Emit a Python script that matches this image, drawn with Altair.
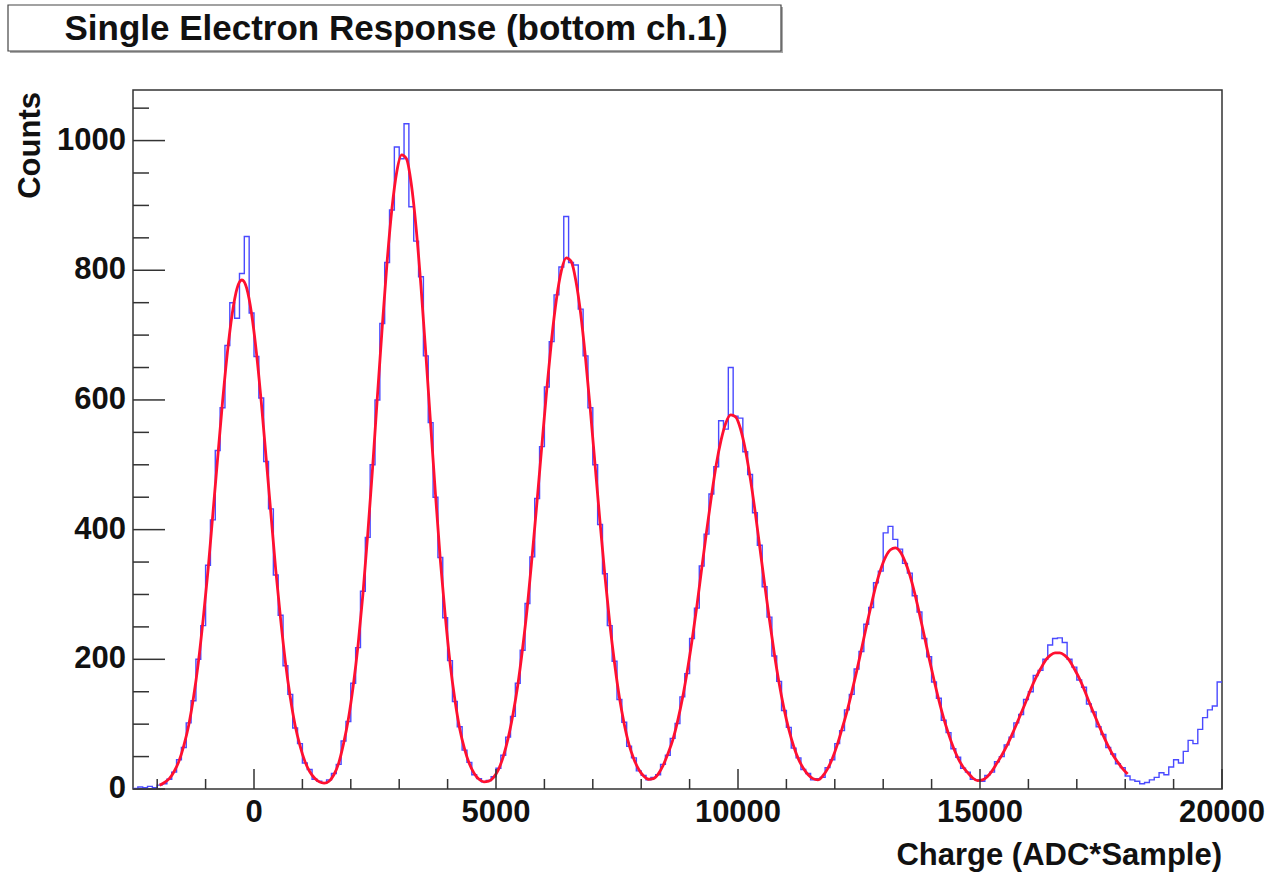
import altair as alt
import numpy as np
import pandas as pd

# ---------------- data ----------------
X_MIN, X_MAX = -2500, 20000
BIN_W = 100
Y_MAX = 1078

# histogram bin contents, bins of 100 starting at -2500 (10 bins per line)
counts = [
    1, 3, 2, 4, 2, 6, 8, 15, 26, 45,                 # -2500 .. -1500
    64, 102, 136, 200, 252, 345, 415, 522, 588, 684,  # -1500 .. -500
    750, 726, 795, 852, 734, 667, 603, 505, 432, 330,  # -500 .. 500
    268, 190, 146, 94, 70, 40, 30, 15, 12, 9,          # 500 .. 1500
    14, 24, 38, 74, 104, 163, 218, 305, 388, 500,      # 1500 .. 2500
    600, 718, 812, 893, 990, 972, 1026, 898, 845, 790, # 2500 .. 3500
    668, 565, 450, 357, 264, 198, 135, 96, 60, 41,     # 3500 .. 4500
    22, 16, 11, 13, 19, 32, 52, 80, 112, 163,          # 4500 .. 5500
    214, 286, 358, 448, 528, 620, 690, 762, 805, 883,  # 5500 .. 6500
    812, 808, 740, 668, 588, 500, 408, 332, 252, 197,  # 6500 .. 7500
    138, 103, 66, 48, 28, 21, 14, 18, 22, 38,          # 7500 .. 8500
    52, 78, 101, 142, 178, 232, 279, 344, 393, 455,    # 8500 .. 9500
    497, 568, 555, 650, 575, 572, 520, 485, 426, 376,  # 9500 .. 10500
    312, 265, 205, 166, 121, 95, 63, 48, 30, 24,       # 10500 .. 11500
    14, 16, 18, 33, 45, 70, 90, 122, 146, 185,         # 11500 .. 12500
    212, 254, 280, 318, 336, 395, 405, 385, 370, 348,  # 12500 .. 13500
    333, 298, 273, 232, 204, 165, 140, 106, 87, 62,    # 13500 .. 14500
    49, 32, 26, 15, 14, 12, 21, 26, 42, 50,            # 14500 .. 15500
    68, 80, 102, 115, 138, 150, 175, 183, 200, 222,    # 15500 .. 16500
    232, 233, 226, 200, 188, 168, 157, 131, 119, 96,   # 16500 .. 17500
    84, 64, 54, 39, 33, 20, 14, 12, 8, 10,             # 17500 .. 18500
    14, 18, 25, 22, 34, 45, 40, 58, 75, 70,            # 18500 .. 19500
    92, 110, 122, 128, 165,                            # 19500 .. 20000
]

# fitted curve, sampled every 100 starting at -1950
FIT_START = -1950
fit_values = [
    6, 10, 16, 27, 43, 67, 98, 141, 195, 262,
    337, 424, 511, 597, 673, 733, 772, 785, 772, 733,
    673, 597, 511, 424, 337, 262, 195, 141, 98, 67,
    43, 27, 17, 11, 9, 12, 22, 40, 70, 108,
    159, 222, 300, 393, 495, 606, 713, 813, 895, 952,
    978, 972, 933, 865, 775, 671, 562, 454, 353, 268,
    195, 138, 93, 62, 39, 24, 15, 11, 12, 18,
    30, 50, 78, 115, 160, 217, 283, 362, 445, 532,
    617, 694, 756, 799, 819, 814, 784, 733, 664, 584,
    497, 411, 329, 256, 194, 141, 100, 68, 46, 30,
    20, 15, 16, 23, 36, 54, 75, 104, 139, 181,
    229, 282, 340, 397, 451, 500, 538, 565, 577, 574,
    556, 524, 481, 430, 373, 316, 261, 209, 163, 124,
    92, 66, 46, 32, 22, 16, 14, 20, 31, 47,
    68, 93, 119, 149, 181, 215, 250, 283, 314, 339,
    358, 369, 372, 366, 351, 330, 302, 270, 236, 201,
    168, 137, 109, 85, 64, 47, 34, 25, 17, 13,
    14, 19, 28, 40, 52, 66, 82, 99, 117, 135,
    154, 171, 185, 198, 206, 210, 210, 206, 198, 185,
    171, 154, 135, 117, 99, 82, 66, 52, 41, 31,
    23,
]

x_major_ticks = [0, 5000, 10000, 15000, 20000]
x_tick_labels = ["0", "5000", "10000", "15000", "20000"]
x_minor_ticks = [v for v in range(-2000, 20000, 1000) if v % 5000 != 0]
y_major_ticks = [0, 200, 400, 600, 800, 1000]
y_tick_labels = ["0", "200", "400", "600", "800", "1000"]
y_minor_ticks = [v for v in range(50, 1078, 50) if v % 200 != 0]

TITLE = "Single Electron Response (bottom ch.1)"
X_TITLE = "Charge (ADC*Sample)"
Y_TITLE = "Counts"

# ---------------- tables ----------------
edges = X_MIN + BIN_W * np.arange(len(counts))
hist_df = pd.DataFrame({"x": list(edges) + [X_MAX], "y": counts + [counts[-1]]})
fit_x = FIT_START + BIN_W * np.arange(len(fit_values))
fit_df = pd.DataFrame({"x": fit_x, "y": fit_values})

W, H = 1089, 699
FONT = "Liberation Sans"
TXT = "#111"
LBL = 31

xs = alt.Scale(domain=[X_MIN, X_MAX], nice=False, zero=False)
ys = alt.Scale(domain=[0, Y_MAX], nice=False, zero=False)

hist = alt.Chart(hist_df).mark_line(
    interpolate="step-after", color="#4a4aff", strokeWidth=1.4, clip=True
).encode(
    x=alt.X("x:Q", scale=xs, axis=None),
    y=alt.Y("y:Q", scale=ys, axis=None),
)

fit = alt.Chart(fit_df).mark_line(
    interpolate="monotone", color="#ff1030", strokeWidth=2.8, clip=True
).encode(
    x=alt.X("x:Q", scale=xs, axis=None),
    y=alt.Y("y:Q", scale=ys, axis=None),
)

def yticks(vals, length):
    return alt.Chart(pd.DataFrame({"y": vals})).mark_rule(color="#333", strokeWidth=1.5).encode(
        y=alt.Y("y:Q", scale=ys, axis=None), x=alt.value(0), x2=alt.value(length))

def xticks(vals, length):
    return alt.Chart(pd.DataFrame({"x": vals})).mark_rule(color="#333", strokeWidth=1.5).encode(
        x=alt.X("x:Q", scale=xs, axis=None), y=alt.value(H), y2=alt.value(H - length))

y_labels = alt.Chart(pd.DataFrame({"y": y_major_ticks, "t": y_tick_labels})).mark_text(
    font=FONT, fontSize=LBL, fontWeight="bold", color=TXT, align="right", baseline="middle"
).encode(y=alt.Y("y:Q", scale=ys, axis=None), x=alt.value(-7), text="t:N")

x_labels = alt.Chart(pd.DataFrame({"x": x_major_ticks, "t": x_tick_labels})).mark_text(
    font=FONT, fontSize=LBL, fontWeight="bold", color=TXT, align="center", baseline="middle"
).encode(x=alt.X("x:Q", scale=xs, axis=None), y=alt.value(H + 24), text="t:N")

x_title = alt.Chart(pd.DataFrame({"t": [X_TITLE]})).mark_text(
    font=FONT, fontSize=LBL, fontWeight="bold", color=TXT, align="right", baseline="middle"
).encode(x=alt.value(W), y=alt.value(H + 67), text="t:N")

y_title = alt.Chart(pd.DataFrame({"t": [Y_TITLE]})).mark_text(
    font=FONT, fontSize=LBL, fontWeight="bold", color=TXT, align="right", baseline="middle",
    angle=270
).encode(x=alt.value(31 - 133), y=alt.value(2), text="t:N")

title_df = pd.DataFrame({"t": [TITLE]})
title_shadow = alt.Chart(title_df).mark_rect(fill="#aaa").encode(
    x=alt.value(8 - 133 + 2), x2=alt.value(781 - 133 + 2),
    y=alt.value(5 - 90 + 2), y2=alt.value(51 - 90 + 2))
title_box = alt.Chart(title_df).mark_rect(fill="white", stroke="#444", strokeWidth=1.2).encode(
    x=alt.value(8 - 133), x2=alt.value(781 - 133),
    y=alt.value(5 - 90), y2=alt.value(51 - 90))
title_text = alt.Chart(title_df).mark_text(
    font=FONT, fontSize=35, fontWeight="bold", color=TXT, align="center", baseline="middle"
).encode(x=alt.value(396 - 133), y=alt.value(29 - 90), text="t:N")

chart = alt.layer(
    hist, fit,
    yticks(y_major_ticks, 32), yticks(y_minor_ticks, 16),
    xticks(x_major_ticks, 20), xticks(x_minor_ticks, 10),
    y_labels, x_labels, x_title, y_title,
    title_shadow, title_box, title_text,
).properties(
    width=W, height=H,
    autosize=alt.AutoSizeParams(type="none"),
    padding={"left": 133, "top": 90, "right": 47, "bottom": 83},
    background="white",
).configure_view(stroke="#333", strokeWidth=1.5)

chart.save("out.html", embed_options={"renderer": "svg", "actions": False})
